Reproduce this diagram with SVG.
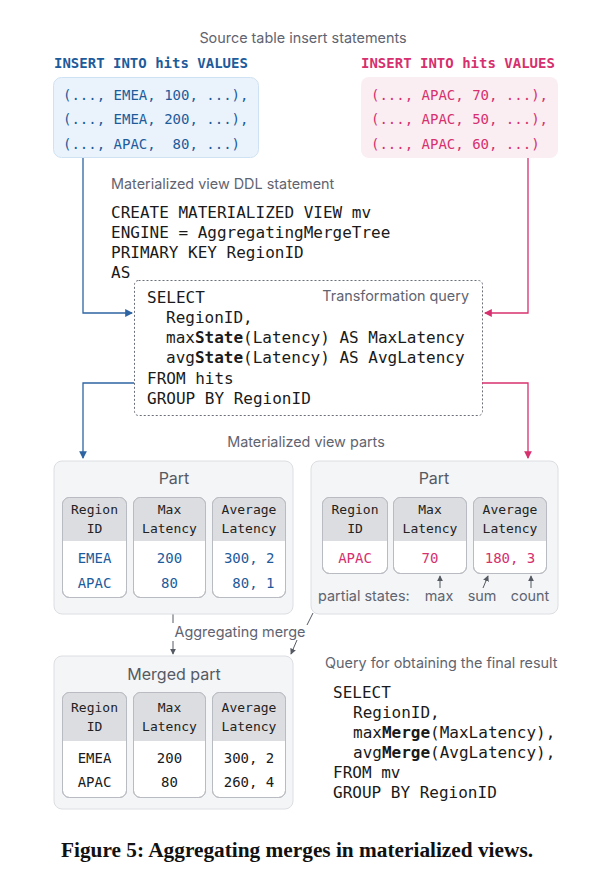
<svg xmlns="http://www.w3.org/2000/svg" width="602" height="889" viewBox="0 0 602 889">
<defs>
<style>
.lbl{font-family:Inter,"Noto Sans","DejaVu Sans",sans-serif;fill:#5f6470;font-size:14.4px}
.code{font-family:"DejaVu Sans Mono","Liberation Mono",monospace;fill:#1a1a1a;font-size:16px}
.ins{font-family:"DejaVu Sans Mono","Liberation Mono",monospace;font-size:14px}
.hdr{font-family:"DejaVu Sans Mono","Liberation Mono",monospace;font-size:13px;fill:#222;text-anchor:middle}
.val{font-family:"DejaVu Sans Mono","Liberation Mono",monospace;font-size:14px;text-anchor:middle}
.vale{font-family:"DejaVu Sans Mono","Liberation Mono",monospace;font-size:14px;text-anchor:end}
.title{font-family:Inter,"Noto Sans","DejaVu Sans",sans-serif;fill:#555a63;font-size:16px;text-anchor:middle}
.part{fill:#f4f5f7;stroke:#dcdee2;stroke-width:1}
.colbox{fill:#ffffff;stroke:#b8bbc1;stroke-width:1}
.colhd{fill:#dcdde0}
.blue{fill:#1d5b9b}
.pink{fill:#d6306e}
.lb{stroke:#2f64a3;stroke-width:1.3;fill:none}
.lp{stroke:#d6306e;stroke-width:1.3;fill:none}
.lg{stroke:#555a63;stroke-width:1;fill:none}
</style>
<marker id="ab" viewBox="0 0 8 8" refX="7" refY="4" markerWidth="6" markerHeight="6" orient="auto"><path d="M0,0 L8,4 L0,8 Z" fill="#2f64a3"/></marker>
<marker id="ap" viewBox="0 0 8 8" refX="7" refY="4" markerWidth="6" markerHeight="6" orient="auto"><path d="M0,0 L8,4 L0,8 Z" fill="#d6306e"/></marker>
<marker id="ag" viewBox="0 0 8 8" refX="7" refY="4" markerWidth="6" markerHeight="6" orient="auto"><path d="M0,0 L8,4 L0,8 Z" fill="#555a63"/></marker>
</defs>
<rect width="602" height="889" fill="#ffffff"/>

<text class="lbl" x="303" y="43" text-anchor="middle">Source table insert statements</text>

<g id="insert-left">
<text class="ins blue" x="54" y="68" font-weight="bold">INSERT INTO hits VALUES</text>
<rect x="53.5" y="77.5" width="205" height="80" rx="8" fill="#eaf3fb" stroke="#cfe2f3"/>
<text class="ins blue" x="63" y="100" xml:space="preserve">(..., EMEA, 100, ...),</text>
<text class="ins blue" x="63" y="124" xml:space="preserve">(..., EMEA, 200, ...),</text>
<text class="ins blue" x="63" y="149" xml:space="preserve">(..., APAC,  80, ...)</text>
</g>

<g id="insert-right">
<text class="ins pink" x="361" y="68" font-weight="bold">INSERT INTO hits VALUES</text>
<rect x="361" y="77" width="197" height="81" rx="8" fill="#fbeef2"/>
<text class="ins pink" x="371" y="100" xml:space="preserve">(..., APAC, 70, ...),</text>
<text class="ins pink" x="371" y="124" xml:space="preserve">(..., APAC, 50, ...),</text>
<text class="ins pink" x="371" y="149" xml:space="preserve">(..., APAC, 60, ...)</text>
</g>

<g id="ddl">
<text class="lbl" x="111" y="189">Materialized view DDL statement</text>
<text class="code" x="111" y="218">CREATE MATERIALIZED VIEW mv</text>
<text class="code" x="111" y="238">ENGINE = AggregatingMergeTree</text>
<text class="code" x="111" y="258">PRIMARY KEY RegionID</text>
<text class="code" x="111" y="278">AS</text>
</g>

<g id="transformation-query">
<rect x="134.5" y="280.5" width="348" height="135" rx="4" fill="none" stroke="#6b7078" stroke-width="1" stroke-dasharray="2,2"/>
<text class="lbl" x="469" y="301" text-anchor="end">Transformation query</text>
<text class="code" x="147" y="303">SELECT</text>
<text class="code" x="166" y="323">RegionID,</text>
<text class="code" x="166" y="343">max<tspan font-weight="bold">State</tspan>(Latency) AS MaxLatency</text>
<text class="code" x="166" y="363">avg<tspan font-weight="bold">State</tspan>(Latency) AS AvgLatency</text>
<text class="code" x="147" y="384">FROM hits</text>
<text class="code" x="147" y="404">GROUP BY RegionID</text>
</g>

<g id="connectors">
<path class="lb" d="M83,158 V313 H132" marker-end="url(#ab)"/>
<path class="lp" d="M528,158 V313 H485" marker-end="url(#ap)"/>
<path class="lb" d="M134,383 H83 V458" marker-end="url(#ab)"/>
<path class="lp" d="M482,383 H528 V458" marker-end="url(#ap)"/>
<path class="lg" d="M173,613 V623"/>
<path class="lg" d="M173,641 V654" marker-end="url(#ag)"/>
<path class="lg" d="M313,613 L307,625"/>
<path class="lg" d="M297,640 L291,654" marker-end="url(#ag)"/>
<text class="lbl" x="240" y="637" text-anchor="middle" font-size="15">Aggregating merge</text>
</g>

<text class="lbl" x="306" y="447" text-anchor="middle">Materialized view parts</text>

<g id="part-left">
<rect class="part" x="54" y="461" width="239" height="153" rx="8"/>
<text class="title" x="174" y="484">Part</text>
<rect class="colbox" x="62.5" y="497.5" width="64" height="100" rx="7"/>
<path class="colhd" d="M63,541 V505 Q63,498 70,498 H119 Q126,498 126,505 V541 Z"/>
<rect x="62.5" y="497.5" width="64" height="100" rx="7" fill="none" stroke="#b8bbc1"/>
<rect class="colbox" x="133.5" y="497.5" width="72" height="100" rx="7"/>
<path class="colhd" d="M134,541 V505 Q134,498 141,498 H198 Q205,498 205,505 V541 Z"/>
<rect x="133.5" y="497.5" width="72" height="100" rx="7" fill="none" stroke="#b8bbc1"/>
<rect class="colbox" x="212.5" y="497.5" width="73" height="100" rx="7"/>
<path class="colhd" d="M213,541 V505 Q213,498 220,498 H278 Q285,498 285,505 V541 Z"/>
<rect x="212.5" y="497.5" width="73" height="100" rx="7" fill="none" stroke="#b8bbc1"/>
<text class="hdr" x="94.5" y="514">Region</text><text class="hdr" x="94.5" y="533">ID</text>
<text class="hdr" x="169.5" y="514">Max</text><text class="hdr" x="169.5" y="533">Latency</text>
<text class="hdr" x="249" y="514">Average</text><text class="hdr" x="249" y="533">Latency</text>
<text class="val blue" x="94.5" y="563">EMEA</text><text class="val blue" x="94.5" y="588">APAC</text>
<text class="val blue" x="169.5" y="563">200</text><text class="val blue" x="169.5" y="588">80</text>
<text class="vale blue" x="274.5" y="563">300, 2</text><text class="vale blue" x="274.5" y="588">80, 1</text>
</g>

<g id="part-right">
<rect class="part" x="311" y="461" width="247" height="153" rx="8"/>
<text class="title" x="434" y="484">Part</text>
<rect class="colbox" x="322.5" y="497.5" width="65" height="76" rx="7"/>
<path class="colhd" d="M323,541 V505 Q323,498 330,498 H380 Q387,498 387,505 V541 Z"/>
<rect x="322.5" y="497.5" width="65" height="76" rx="7" fill="none" stroke="#b8bbc1"/>
<rect class="colbox" x="393.5" y="497.5" width="73" height="76" rx="7"/>
<path class="colhd" d="M394,541 V505 Q394,498 401,498 H459 Q466,498 466,505 V541 Z"/>
<rect x="393.5" y="497.5" width="73" height="76" rx="7" fill="none" stroke="#b8bbc1"/>
<rect class="colbox" x="473.5" y="497.5" width="73" height="76" rx="7"/>
<path class="colhd" d="M474,541 V505 Q474,498 481,498 H539 Q546,498 546,505 V541 Z"/>
<rect x="473.5" y="497.5" width="73" height="76" rx="7" fill="none" stroke="#b8bbc1"/>
<text class="hdr" x="355" y="514">Region</text><text class="hdr" x="355" y="533">ID</text>
<text class="hdr" x="430" y="514">Max</text><text class="hdr" x="430" y="533">Latency</text>
<text class="hdr" x="510" y="514">Average</text><text class="hdr" x="510" y="533">Latency</text>
<text class="val pink" x="355" y="563">APAC</text>
<text class="val pink" x="430" y="563">70</text>
<text class="val pink" x="510" y="563">180, 3</text>
<path class="lg" d="M440,588 V576" marker-end="url(#ag)"/>
<path class="lg" d="M483,588 L488,576" marker-end="url(#ag)"/>
<path class="lg" d="M531,588 V576" marker-end="url(#ag)"/>
<text class="lbl" x="318" y="601" font-size="15">partial states:</text>
<text class="lbl" x="439" y="601" font-size="15" text-anchor="middle">max</text>
<text class="lbl" x="482" y="601" font-size="15" text-anchor="middle">sum</text>
<text class="lbl" x="530" y="601" font-size="15" text-anchor="middle">count</text>
</g>

<g id="merged-part">
<rect class="part" x="54" y="656" width="239" height="153" rx="8"/>
<text class="title" x="174" y="680">Merged part</text>
<rect class="colbox" x="62.5" y="692.5" width="64" height="105" rx="7"/>
<path class="colhd" d="M63,741 V700 Q63,693 70,693 H119 Q126,693 126,700 V741 Z"/>
<rect x="62.5" y="692.5" width="64" height="105" rx="7" fill="none" stroke="#b8bbc1"/>
<rect class="colbox" x="133.5" y="692.5" width="72" height="105" rx="7"/>
<path class="colhd" d="M134,741 V700 Q134,693 141,693 H198 Q205,693 205,700 V741 Z"/>
<rect x="133.5" y="692.5" width="72" height="105" rx="7" fill="none" stroke="#b8bbc1"/>
<rect class="colbox" x="212.5" y="692.5" width="73" height="105" rx="7"/>
<path class="colhd" d="M213,741 V700 Q213,693 220,693 H278 Q285,693 285,700 V741 Z"/>
<rect x="212.5" y="692.5" width="73" height="105" rx="7" fill="none" stroke="#b8bbc1"/>
<text class="hdr" x="94.5" y="712">Region</text><text class="hdr" x="94.5" y="731">ID</text>
<text class="hdr" x="169.5" y="712">Max</text><text class="hdr" x="169.5" y="731">Latency</text>
<text class="hdr" x="249" y="712">Average</text><text class="hdr" x="249" y="731">Latency</text>
<text class="val" x="94.5" y="763" fill="#1a1a1a">EMEA</text><text class="val" x="94.5" y="787" fill="#1a1a1a">APAC</text>
<text class="val" x="169.5" y="763" fill="#1a1a1a">200</text><text class="val" x="169.5" y="787" fill="#1a1a1a">80</text>
<text class="val" x="249" y="763" fill="#1a1a1a">300, 2</text><text class="val" x="249" y="787" fill="#1a1a1a">260, 4</text>
</g>

<g id="final-query">
<text class="lbl" x="325" y="668">Query for obtaining the final result</text>
<text class="code" x="333" y="698">SELECT</text>
<text class="code" x="353" y="718">RegionID,</text>
<text class="code" x="353" y="738">max<tspan font-weight="bold">Merge</tspan>(MaxLatency),</text>
<text class="code" x="353" y="758">avg<tspan font-weight="bold">Merge</tspan>(AvgLatency),</text>
<text class="code" x="333" y="778">FROM mv</text>
<text class="code" x="333" y="798">GROUP BY RegionID</text>
</g>

<text x="297" y="857" text-anchor="middle" font-family="'Liberation Serif','DejaVu Serif',serif" font-weight="bold" font-size="20" fill="#111" textLength="472" lengthAdjust="spacingAndGlyphs">Figure 5: Aggregating merges in materialized views.</text>
</svg>
